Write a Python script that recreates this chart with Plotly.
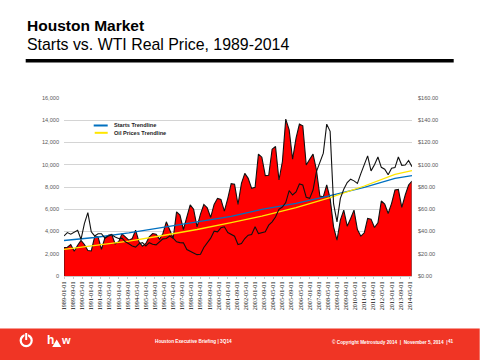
import pandas as pd
import plotly.graph_objects as go

quarters = pd.date_range("1989-01-01", periods=103, freq="QS").strftime("%Y-%m-%d").tolist()

starts = [2550,2580,2830,2230,2770,3200,2830,2290,2250,3520,3520,2400,3430,3670,3730,2890,3070,3790,3520,3220,
          3370,4120,3070,2680,2920,3520,3820,3760,3310,3820,4870,4120,3400,5770,5470,4180,5320,6400,6010,4420,
          5560,6430,6130,5260,6430,6980,6890,5830,6980,8300,8240,6430,8330,9230,8780,7880,7970,10950,10680,9020,
          9050,11400,11640,8630,10290,14100,13140,10500,12390,13650,13500,9980,10500,10950,9530,7190,7130,8180,6980,4420,
          3220,5020,5920,4480,5170,5920,4180,3580,3880,5170,5110,4360,4780,6740,6470,5620,6530,7730,7790,6170,
          7280,8180,8540]

oil = [36,39,37.6,39.7,41,33,47,57,39.7,36,38,38,34,36,37,35,33.7,34,30.7,29,
       27,26,29,30,27,30,28.6,28,31,33.4,33.7,36,34,30.7,30,29.8,23.8,22,20.7,19.2,
       19.5,25.6,29.8,34,40.3,39.7,43.3,44.2,39,37.6,35.8,28.3,29.2,33.7,36.7,37.3,44.2,38.2,38.8,39.7,
       45.7,48.7,53,60,62,66,76.7,72.8,75.6,82.7,81.8,70.7,69.8,77.3,93.8,102.9,110.4,136.5,130,65,
       48.7,69.8,78,84,87,85.5,83.3,92,100.8,108,94.5,100,107,97.7,96,91,96.8,97.4,107,99.5,
       99.8,103.8,98.3]

trend_idx = [0,9,19,29,39,49,58,68,78,88,97,102]
starts_trend = [3190,3460,3880,4360,4810,5350,5985,6530,7220,7970,8780,9020]
oil_trend = [2400,2740,3130,3640,4180,4800,5380,6140,7040,8090,9140,9470]

x_ticks = ["1989-01-01","1989-09-01","1990-05-01","1991-01-01","1991-09-01","1992-05-01","1993-01-01","1993-09-01",
           "1994-05-01","1995-01-01","1995-09-01","1996-05-01","1997-01-01","1997-09-01","1998-05-01","1999-01-01",
           "1999-09-01","2000-05-01","2001-01-01","2001-09-01","2002-05-01","2003-01-01","2003-09-01","2004-05-01",
           "2005-01-01","2005-09-01","2006-05-01","2007-01-01","2007-09-01","2008-05-01","2009-01-01","2009-09-01",
           "2010-05-01","2011-01-01","2011-09-01","2012-05-01","2013-01-01","2013-09-01","2014-05-01"]
left_ticks = [0,2000,4000,6000,8000,10000,12000,14000,16000]
right_ticks = [0,20,40,60,80,100,120,140,160]

W, H = 480, 360
L, R, T, B = 64.3, 412.3, 98.3, 275.7
RED = "#F03525"

def px(x): return (x - L) / (R - L)
def py(y): return (B - y) / (B - T)

fig = go.Figure()
fig.add_trace(go.Scatter(x=quarters, y=starts, mode="lines", fill="tozeroy", fillcolor="#FF0000",
                         line=dict(color="#111111", width=1.1), name="Starts", showlegend=False))
fig.add_trace(go.Scatter(x=[quarters[0]]*2, y=[0, starts[0]], mode="lines",
                         line=dict(color="#5a1010", width=1.2), showlegend=False, hoverinfo="skip"))
fig.add_trace(go.Scatter(x=[quarters[-1]]*2, y=[0, starts[-1]], mode="lines",
                         line=dict(color="#707070", width=1.2), showlegend=False, hoverinfo="skip"))
fig.add_trace(go.Scatter(x=quarters, y=oil, mode="lines", yaxis="y2",
                         line=dict(color="#111111", width=1.1), name="WTI Real Price", showlegend=False))
fig.add_trace(go.Scatter(x=[quarters[i] for i in trend_idx], y=starts_trend, mode="lines",
                         line=dict(color="#0070C0", width=1.3), name="Starts Trendline", showlegend=False))
fig.add_trace(go.Scatter(x=[quarters[i] for i in trend_idx], y=oil_trend, mode="lines",
                         line=dict(color="#FFE600", width=1.3), name="Oil Prices Trendline", showlegend=False))

def rect(x0, y0, x1, y1, color):
    return dict(type="rect", xref="paper", yref="paper", x0=px(x0), x1=px(x1), y0=py(y0), y1=py(y1),
                fillcolor=color, line=dict(width=0), layer="above")

def pline(x0, y0, x1, y1, color, w):
    return dict(type="line", xref="paper", yref="paper", x0=px(x0), x1=px(x1), y0=py(y0), y1=py(y1),
                line=dict(color=color, width=w), layer="above")

shapes = [
    rect(26, 59.5, 454, 63, "#000000"),
    rect(0, 328, 480, 360, RED),
    pline(94, 125.7, 108, 125.7, "#0070C0", 2),
    pline(95, 133, 108, 133, "#FFE600", 2),
    # power icon
    dict(type="circle", xref="paper", yref="paper", x0=px(21), x1=px(32), y0=py(345.5), y1=py(334.5),
         line=dict(color="white", width=2.2), layer="above"),
    rect(24.8, 332, 28.2, 340, RED),
    pline(26.5, 332.5, 26.5, 339.5, "white", 2),
    # logo triangle
    dict(type="path", xref="paper", yref="paper", layer="above", fillcolor="white", line=dict(width=0),
         path=f"M {px(52.5)} {py(346.5)} L {px(61.5)} {py(346.5)} L {px(57)} {py(339)} Z"),
]

def note(text, x, y, size, color="#000000", family="Liberation Sans", anchor="left", bold=False):
    return dict(text=f"<b>{text}</b>" if bold else text, xref="paper", yref="paper", x=px(x), y=py(y),
                xanchor=anchor, yanchor="middle", showarrow=False, borderpad=0,
                font=dict(size=size, color=color, family=family))

annotations = [
    note("Houston Market", 26, 25.8, 15.5, bold=True),
    note("Starts vs. WTI Real Price, 1989-2014", 26, 44.5, 15.9),
    note("Starts Trendline", 113, 125.5, 5.6, "#222222", bold=True),
    note("Oil Prices Trendline", 113, 133, 5.6, "#222222", bold=True),
    note("h", 46.5, 339.5, 12, "white", bold=True),
    note("w", 60.5, 339.5, 11, "white", bold=True),
    note("Houston Executive Briefing | 3Q14", 154, 341, 4.7, "white", bold=True),
    note("© Copyright Metrostudy 2014  |  November 5, 2014  |", 331, 341, 4.7, "white", bold=True),
    note("41", 447, 341, 4.7, "white", bold=True),
]

fig.update_layout(
    width=W, height=H, autosize=False,
    margin=dict(l=L, r=W - R, t=T, b=H - B, pad=0),
    paper_bgcolor="white", plot_bgcolor="white", showlegend=False,
    shapes=shapes, annotations=annotations,
    xaxis=dict(type="date", range=[quarters[0], quarters[-1]], tickmode="array", tickvals=x_ticks, ticktext=x_ticks,
               tickangle=-90, ticks="outside", ticklen=2, tickcolor="#C8C8C8", tickwidth=1,
               showline=True, linecolor="#C8C8C8", linewidth=1, showgrid=False, zeroline=False,
               tickfont=dict(family="Liberation Serif", size=6.2, color="#111111")),
    yaxis=dict(range=[0, 16000], tickmode="array", tickvals=left_ticks, ticktext=[f"{v:,}" for v in left_ticks],
               showgrid=True, gridcolor="#D4D4D4", gridwidth=1.2, zeroline=False, ticks="", showline=False,
               ticklabelstandoff=4, tickfont=dict(family="Liberation Sans", size=5.6, color="#595959")),
    yaxis2=dict(range=[0, 160], overlaying="y", side="right", tickmode="array", tickvals=right_ticks,
                ticktext=[f"${v:.2f}" for v in right_ticks], showgrid=False, zeroline=False, ticks="",
                showline=False, ticklabelstandoff=5,
                tickfont=dict(family="Liberation Sans", size=5.6, color="#595959")),
)

fig.write_html("out.html", config=dict(displayModeBar=False),
               post_script="document.body.style.margin='0';")
